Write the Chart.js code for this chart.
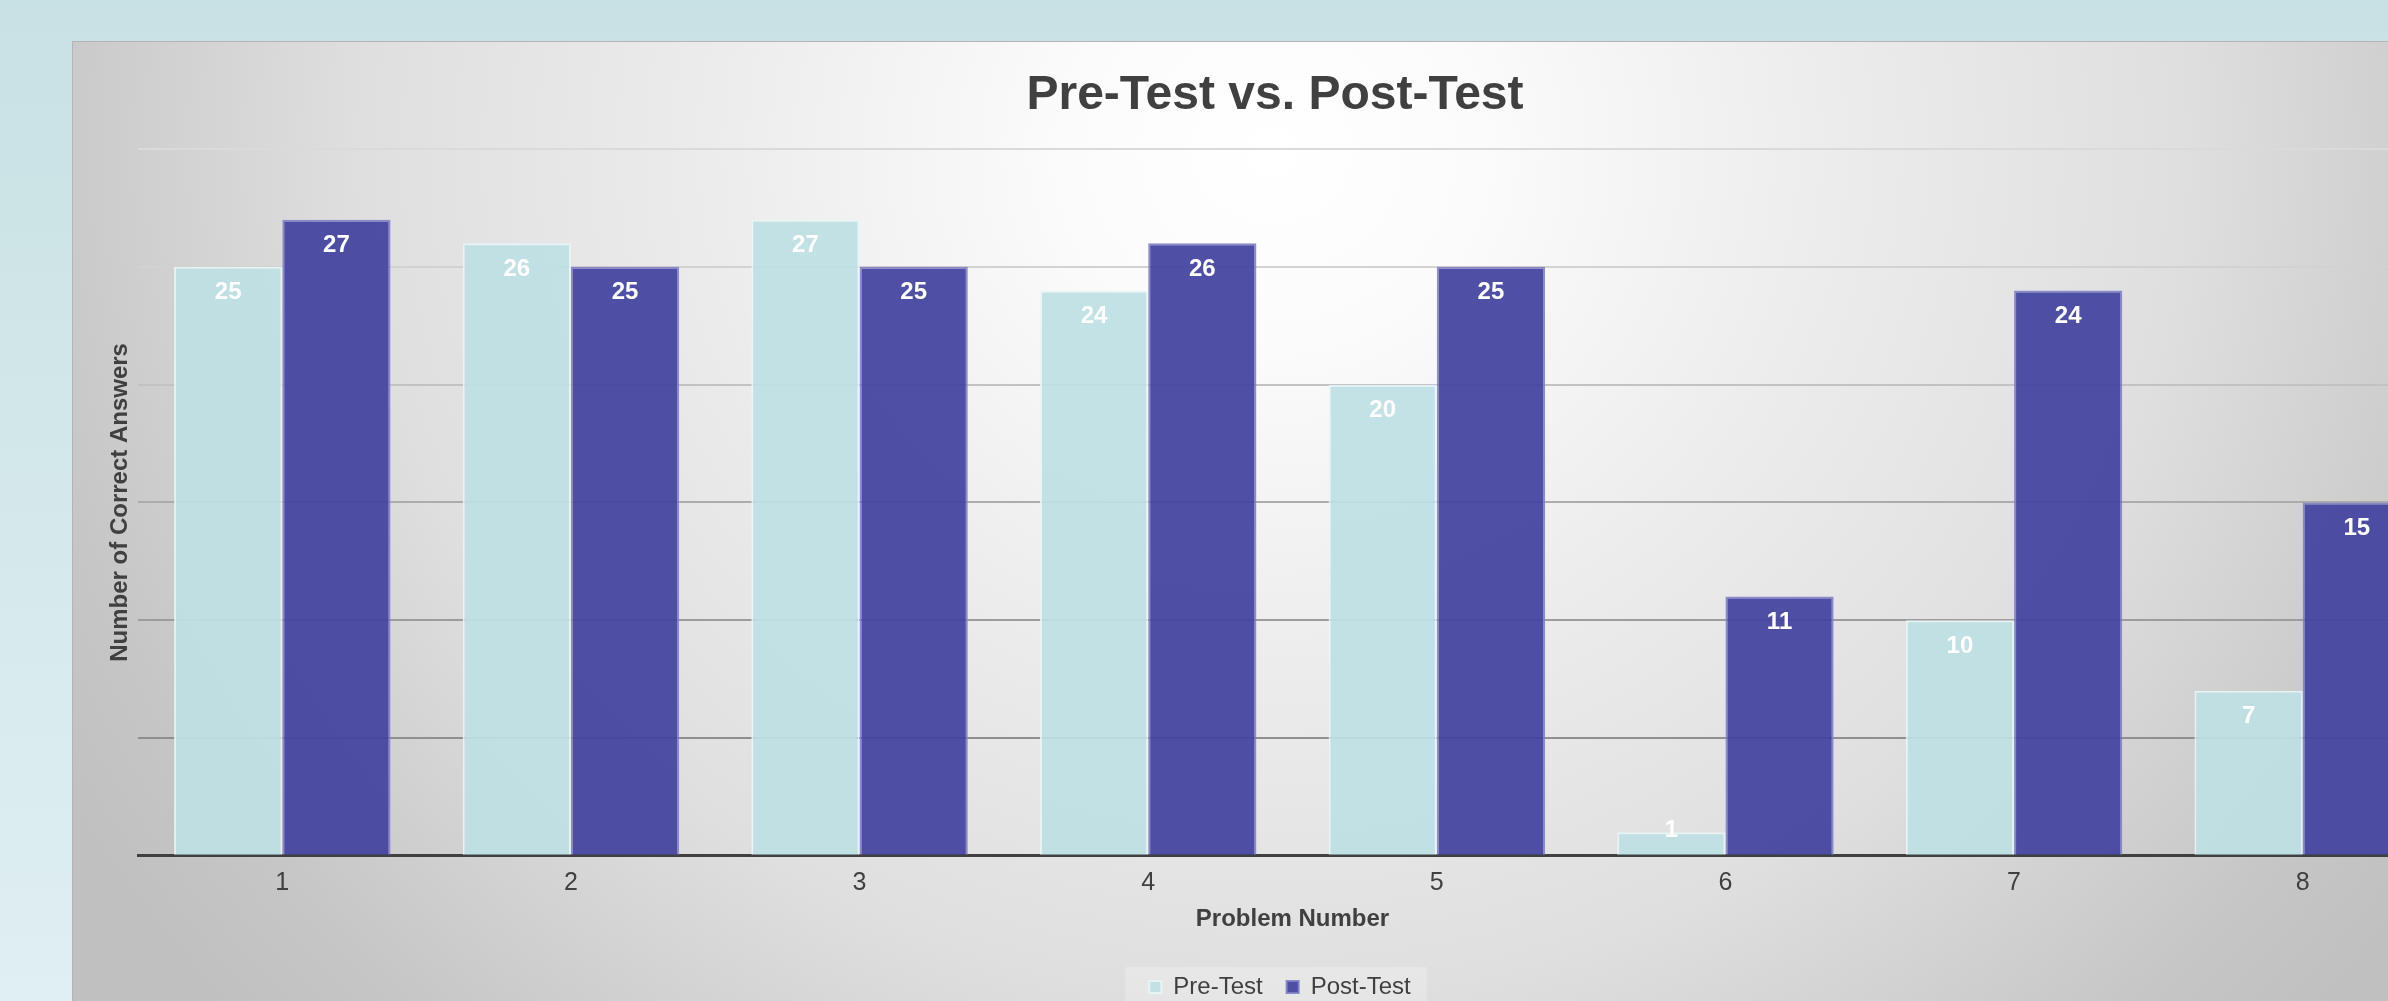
<!DOCTYPE html>
<html>
<head>
<meta charset="utf-8">
<script src="https://cdn.jsdelivr.net/npm/chart.js@4.4.1/dist/chart.umd.min.js"></script>
<style>
  html, body { margin: 0; padding: 0; width: 2388px; height: 1001px; overflow: hidden; }
  body { background: linear-gradient(to bottom, #c8e1e4 0%, #d5e9eb 55%, #e0eff1 100%); position: relative; }
  #panel {
    position: absolute; left: 72px; top: 41px; width: 2406px; height: 980px;
    background: radial-gradient(ellipse 1400px 1300px at 1200px 110px,
      #ffffff 0%, #fbfbfb 15%, #ececec 40%, #dfdfdf 65%, #c6c6c6 90%, #c0c0c0 100%);
    box-shadow: inset 1px 1px 0 #b4b4b4;
  }
  #panel canvas { position: absolute; left: 0; top: 0; }
</style>
</head>
<body>
<div id="panel"><canvas id="chart" width="2406" height="980"></canvas></div>
<script>
// --- DATA ---
const problems = ['1', '2', '3', '4', '5', '6', '7', '8'];
const preTest = [25, 26, 27, 24, 20, 1, 10, 7];
const postTest = [27, 25, 25, 26, 25, 11, 24, 15];
const yTicks = [0, 5, 10, 15, 20, 25, 30];

const TEXT = '#404040';
const FONT = "'Liberation Sans', Arial, sans-serif";
const LEGEND_SHIFT = 5; // legend sits a little right of centre in the original

// gridlines get darker toward the bottom of the plot
const gridShade = { 0: 'rgba(0,0,0,0)', 5: '#8f8f8f', 10: '#9c9c9c', 15: '#acacac', 20: '#c2c2c2', 25: '#d2d2d2', 30: '#dadada' };

// value labels inside the top of each bar
const barLabels = {
  id: 'barLabels',
  afterDatasetsDraw(chart) {
    const ctx = chart.ctx;
    const base = chart.scales.y.getPixelForValue(0);
    ctx.save();
    ctx.font = `bold 24px ${FONT}`;
    ctx.fillStyle = '#ffffff';
    ctx.textAlign = 'center';
    ctx.textBaseline = 'middle';
    chart.data.datasets.forEach((ds, di) => {
      chart.getDatasetMeta(di).data.forEach((bar, i) => {
        const y = Math.min(bar.y + 26, base - 25);
        ctx.fillText(String(ds.data[i]), bar.x, y);
      });
    });
    ctx.restore();
  }
};

// faint box behind the legend, and nudge the legend sideways
const legendBack = {
  id: 'legendBack',
  afterInit(chart) {
    const leg = chart.legend;
    const draw = leg.draw.bind(leg);
    leg.draw = (...args) => {
      chart.ctx.save();
      chart.ctx.translate(LEGEND_SHIFT, 0);
      draw(...args);
      chart.ctx.restore();
    };
  },
  beforeDraw(chart) {
    const boxes = chart.legend && chart.legend.legendHitBoxes;
    if (!boxes || !boxes.length) return;
    const left = Math.min(...boxes.map(b => b.left)) - 24 + LEGEND_SHIFT;
    const right = Math.max(...boxes.map(b => b.left + b.width)) + 16 + LEGEND_SHIFT;
    const top = Math.min(...boxes.map(b => b.top)) - 8;
    const ctx = chart.ctx;
    ctx.save();
    ctx.fillStyle = 'rgba(255,255,255,0.22)';
    ctx.fillRect(left, top, right - left, chart.height - top);
    ctx.restore();
  }
};

const chart = new Chart(document.getElementById('chart').getContext('2d'), {
  type: 'bar',
  data: {
    labels: problems,
    datasets: [
      { label: 'Pre-Test', data: preTest, backgroundColor: 'rgba(190,224,227,0.93)', borderColor: 'rgba(232,245,246,0.9)', borderWidth: 2 },
      { label: 'Post-Test', data: postTest, backgroundColor: 'rgba(68,68,160,0.94)', borderColor: 'rgba(128,128,198,0.9)', borderWidth: 2 }
    ]
  },
  options: {
    responsive: false, animation: false, devicePixelRatio: 1,
    categoryPercentage: 0.75, barPercentage: 1.0,
    layout: { padding: { left: 0, right: 0, top: 0, bottom: 12 } },
    plugins: {
      title: { display: true, text: 'Pre-Test vs. Post-Test', color: TEXT,
        font: { family: FONT, size: 48, weight: 'bold' }, padding: { top: 25.5, bottom: 25 } },
      legend: { position: 'bottom',
        labels: { boxWidth: 12, boxHeight: 12, padding: 24, color: TEXT, font: { family: FONT, size: 24 } } },
      tooltip: { enabled: false }
    },
    scales: {
      x: {
        grid: { display: false, drawTicks: false },
        border: { display: true, color: TEXT, width: 3 },
        ticks: { color: TEXT, padding: 12, font: { family: FONT, size: 25 } },
        title: { display: true, text: 'Problem Number', color: TEXT,
          font: { family: FONT, size: 24, weight: 'bold' }, padding: { top: -4.5, bottom: 17 } }
      },
      y: {
        min: yTicks[0], max: yTicks[yTicks.length - 1],
        ticks: { display: false, stepSize: yTicks[1] - yTicks[0] },
        grid: { drawTicks: false, lineWidth: 2, color: c => gridShade[c.tick.value] || '#c0c0c0' },
        border: { display: false },
        title: { display: true, text: 'Number of Correct Answers', color: TEXT,
          font: { family: FONT, size: 24, weight: 'bold' }, padding: { top: 33.6, bottom: 3.6 } }
      },
      // empty strip on the right so the plot stops short of the panel edge
      yRight: {
        position: 'right', type: 'linear', display: true,
        ticks: { display: false }, grid: { display: false, drawTicks: false }, border: { display: false },
        afterFit: s => { s.width = 31; }
      }
    }
  },
  plugins: [legendBack, barLabels]
});
</script>
</body>
</html>
